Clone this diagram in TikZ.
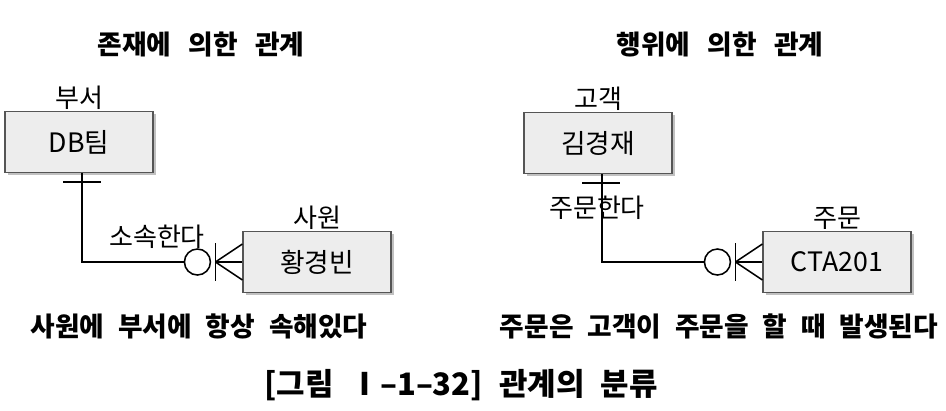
\documentclass[tikz,border=0pt]{standalone}
\usepackage{fontspec}
\setmainfont{Noto Sans CJK KR}
\usetikzlibrary{positioning,calc,shadows}
\definecolor{boxfill}{HTML}{EDEDED}
\definecolor{boxline}{HTML}{555555}
\newcommand\headtype{\fontsize{19}{22}\selectfont\bfseries\spaceskip=0.65em\relax}
\newcommand\notetype{\fontsize{19}{22}\selectfont\bfseries\spaceskip=0.52em\relax}
\newcommand\captype{\fontsize{22}{25}\selectfont\bfseries\spaceskip=0.52em\relax}

\begin{document}
\begin{tikzpicture}[x=0.025cm, y=-0.025cm,
  entity/.style={rectangle, draw=boxline, fill=boxfill, line width=0.8pt,
                 minimum width=3.7cm, minimum height=1.53cm,
                 font=\fontsize{19}{22}\selectfont,
                 drop shadow={shadow xshift=2pt, shadow yshift=-2pt, fill=black!30, opacity=0.8}},
  tag/.style={font=\fontsize{18.5}{21}\selectfont, inner sep=1pt},
  headline/.style={font=\headtype},
  remark/.style={font=\notetype},
  rel/.style={line width=1.3pt},
  footmark/.style={line width=1.1pt}
]
\useasboundingbox (0,0) rectangle (946,410);

% left: relation by existence
\node[headline] (titleA) at (201,45) {존재에 의한 관계};
\node[entity] (dbteam) at (79,142) {DB팀};
\node[tag, above=0pt of dbteam] (deptA) {부서};
\node[entity] (emp) at (317,262) {황경빈};
\node[tag, above=0pt of emp] (empA) {사원};
\node[tag] (belong) at (157,237) {소속한다};
\draw[rel] ($(dbteam.south)+(3,0)$) |- ($(emp.west)+(-58,0)$) coordinate (endA);
\draw[footmark] ($(dbteam.south)+(-16,9)$) -- ++(38,0);
\draw[footmark, fill=white] ($(emp.west)+(-45,0)$) circle[radius=13];
\draw[footmark] ($(emp.west)+(-27,-19)$) -- ++(0,38);
\draw[footmark] ($(emp.west)+(-27,0)$) -- (emp.west);
\draw[footmark] ($(emp.west)+(-27,0)$) -- ($(emp.west)+(0,-18)$);
\draw[footmark] ($(emp.west)+(-27,0)$) -- ($(emp.west)+(0,18)$);
\node[remark] (noteA) at (199,326) {사원에 부서에 항상 속해있다};

% right: relation by action
\node[headline] (titleB) at (720,45) {행위에 의한 관계};
\node[entity] (cust) at (598,143) {김경재};
\node[tag, above=0pt of cust] (custA) {고객};
\node[entity] (order) at (837,262) {CTA201};
\node[tag, above=0pt of order] (orderA) {주문};
\node[tag] (place) at (597,208) {주문한다};
\draw[rel] ($(cust.south)+(4,0)$) |- ($(order.west)+(-58,0)$) coordinate (endB);
\draw[footmark] ($(cust.south)+(-16,9)$) -- ++(38,0);
\draw[footmark, fill=white] ($(order.west)+(-45,0)$) circle[radius=13];
\draw[footmark] ($(order.west)+(-27,-19)$) -- ++(0,38);
\draw[footmark] ($(order.west)+(-27,0)$) -- (order.west);
\draw[footmark] ($(order.west)+(-27,0)$) -- ($(order.west)+(0,-18)$);
\draw[footmark] ($(order.west)+(-27,0)$) -- ($(order.west)+(0,18)$);
\node[remark] (noteB) at (719,326) {주문은 고객이 주문을 할 때 발생된다};

\node[remark, font=\captype] (caption) at (461,385) {[그림\enspace Ⅰ–1–32] 관계의 분류};
\end{tikzpicture}
\end{document}
